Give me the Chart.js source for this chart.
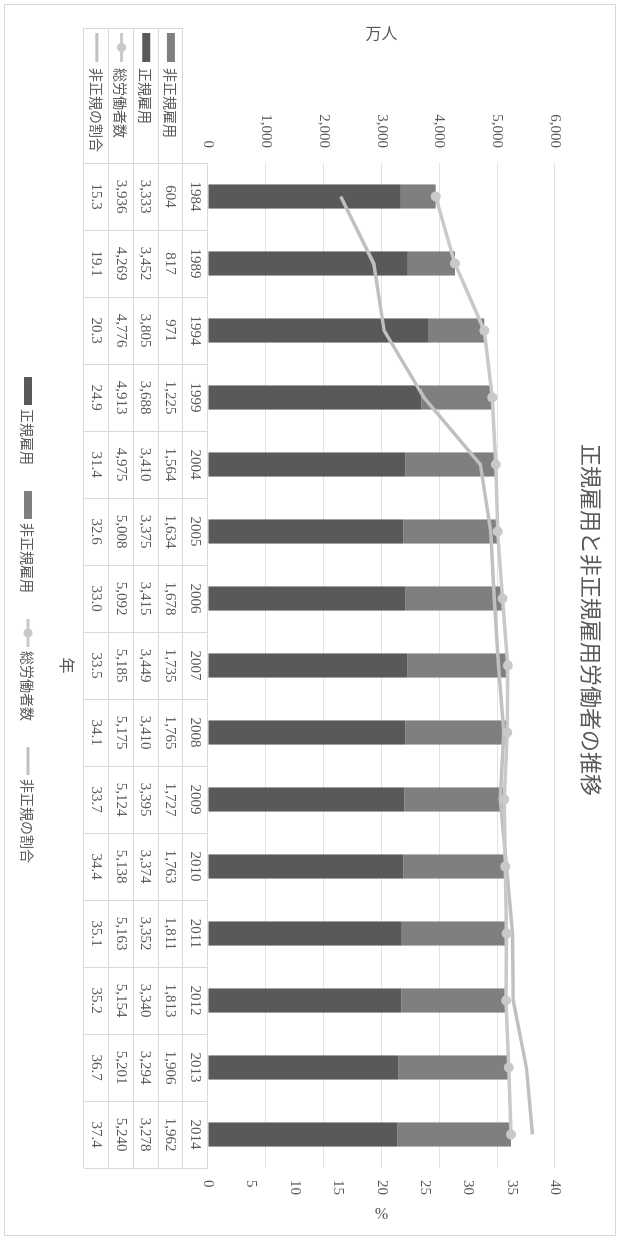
<!DOCTYPE html>
<html>
<head>
<meta charset="utf-8">
<script src="https://cdn.jsdelivr.net/npm/chart.js@4.4.1/dist/chart.umd.min.js"></script>
<style>
  html, body { margin: 0; padding: 0; background: #fff; overflow: hidden; width: 620px; height: 1240px; }
  /* chart is laid out landscape, then turned a quarter clockwise */
  #wrap { position: absolute; left: 0; top: 0; width: 1240px; height: 620px;
          transform-origin: 0 0; transform: translate(620px, 0) rotate(90deg); }
  #frame { position: absolute; left: 4px; top: 4px; width: 1230px; height: 610px; border: 1px solid #d9d9d9; }
  canvas { position: absolute; left: 0; top: 0; }
</style>
</head>
<body>
<div id="wrap">
  <div id="frame"></div>
  <canvas id="employment" width="1240" height="620"></canvas>
</div>
<script>
// @ts-check

const years = ['1984', '1989', '1994', '1999', '2004', '2005', '2006', '2007', '2008', '2009', '2010', '2011', '2012', '2013', '2014'];
const regular = [3333, 3452, 3805, 3688, 3410, 3375, 3415, 3449, 3410, 3395, 3374, 3352, 3340, 3294, 3278];
const nonRegular = [604, 817, 971, 1225, 1564, 1634, 1678, 1735, 1765, 1727, 1763, 1811, 1813, 1906, 1962];
const totalWorkers = [3936, 4269, 4776, 4913, 4975, 5008, 5092, 5185, 5175, 5124, 5138, 5163, 5154, 5201, 5240];
const nonRegularShare = [15.3, 19.1, 20.3, 24.9, 31.4, 32.6, 33.0, 33.5, 34.1, 33.7, 34.4, 35.1, 35.2, 36.7, 37.4];
const peopleTicks = [0, 1000, 2000, 3000, 4000, 5000, 6000];
const shareTicks = [0, 5, 10, 15, 20, 25, 30, 35, 40];

const FONT = "'Liberation Serif', 'Noto Sans CJK JP', serif";
const JP = "'Noto Sans CJK JP', 'Liberation Serif', sans-serif";
const TEXT = '#595959';
const GRID = '#e2e2e2';
const fmt = (v) => v.toLocaleString('en-US');

// @ts-ignore
Chart.defaults.font.family = FONT;
// @ts-ignore
Chart.defaults.color = TEXT;

// Data table under the plot plus the bottom legend
const tablePlugin = {
  id: 'dataTable',
  afterDraw(chart) {
    const { ctx, chartArea, scales: { x } } = chart;
    const ds = chart.data.datasets;
    const n = years.length;
    const cw = chartArea.width / n;
    const top = chartArea.bottom;
    const rowH = 24.7;
    const headLeft = 28;
    const rows = [
      { label: null, values: years },
      { label: ds[1].label, kind: 'bar', color: ds[1].backgroundColor, values: nonRegular.map(fmt) },
      { label: ds[0].label, kind: 'bar', color: ds[0].backgroundColor, values: regular.map(fmt) },
      { label: ds[2].label, kind: 'dot', color: ds[2].borderColor, values: totalWorkers.map(fmt) },
      { label: ds[3].label, kind: 'line', color: ds[3].borderColor, values: nonRegularShare.map(v => v.toFixed(1)) }
    ];
    const bottom = top + rowH * rows.length;

    ctx.save();
    ctx.strokeStyle = '#d9d9d9';
    ctx.lineWidth = 1;
    ctx.beginPath();
    for (let r = 0; r <= rows.length; r++) {
      const y = Math.round(top + r * rowH) + 0.5;
      ctx.moveTo(r === 0 ? chartArea.left : headLeft, y);
      ctx.lineTo(chartArea.right, y);
    }
    for (let k = 0; k <= n; k++) {
      const xx = Math.round(chartArea.left + k * cw) + 0.5;
      ctx.moveTo(xx, top);
      ctx.lineTo(xx, bottom);
    }
    ctx.moveTo(headLeft + 0.5, top + rowH);
    ctx.lineTo(headLeft + 0.5, bottom);
    ctx.stroke();

    const drawKey = (kind, color, x0, len, yc) => {
      if (kind === 'bar') {
        ctx.fillStyle = color;
        ctx.fillRect(x0, yc - 4, len, 8);
      } else {
        ctx.strokeStyle = color;
        ctx.lineWidth = 3;
        ctx.beginPath();
        ctx.moveTo(x0, yc);
        ctx.lineTo(x0 + len, yc);
        ctx.stroke();
        if (kind === 'dot') {
          ctx.fillStyle = color;
          ctx.beginPath();
          ctx.arc(x0 + len / 2, yc, 4.5, 0, Math.PI * 2);
          ctx.fill();
        }
      }
    };

    ctx.textBaseline = 'middle';
    rows.forEach((row, r) => {
      const yc = top + r * rowH + rowH / 2;
      if (row.label) {
        drawKey(row.kind, row.color, 33, 29, yc);
        ctx.fillStyle = TEXT;
        ctx.textAlign = 'left';
        ctx.font = '14px ' + JP;
        ctx.fillText(row.label, 68, yc + 1);
      }
      ctx.fillStyle = TEXT;
      ctx.textAlign = 'center';
      ctx.font = '15px ' + FONT;
      row.values.forEach((v, i) => {
        ctx.fillText(v, x.getPixelForValue(i), yc + 1);
      });
    });

    // bottom legend
    const items = ds.map((d) => ({
      label: d.label,
      kind: d.type === 'bar' ? 'bar' : (d.pointRadius > 0 ? 'dot' : 'line'),
      color: d.type === 'bar' ? d.backgroundColor : d.borderColor
    }));
    ctx.font = '14px ' + JP;
    const keyLen = 28, keyGap = 4, itemGap = 26;
    const widths = items.map(it => keyLen + keyGap + ctx.measureText(it.label).width);
    const total = widths.reduce((a, b) => a + b, 0) + itemGap * (items.length - 1);
    let lx = chart.width / 2 - total / 2;
    const ly = 592;
    items.forEach((it, i) => {
      drawKey(it.kind, it.color, lx, keyLen, ly);
      ctx.fillStyle = TEXT;
      ctx.textAlign = 'left';
      ctx.fillText(it.label, lx + keyLen + keyGap, ly + 1);
      lx += widths[i] + itemGap;
    });
    ctx.restore();
  }
};

const canvas = document.getElementById('employment');

// @ts-ignore
new Chart(canvas, {
  data: {
    labels: years,
    datasets: [
      {
        type: 'bar',
        label: '正規雇用',
        data: regular,
        backgroundColor: '#595959',
        yAxisID: 'y',
        order: 2
      },
      {
        type: 'bar',
        label: '非正規雇用',
        data: nonRegular,
        backgroundColor: '#7f7f7f',
        yAxisID: 'y',
        order: 2
      },
      {
        type: 'line',
        label: '総労働者数',
        data: totalWorkers,
        borderColor: '#c9c9c9',
        backgroundColor: '#c9c9c9',
        borderWidth: 3.5,
        pointRadius: 5,
        pointBorderWidth: 0,
        pointBackgroundColor: '#c9c9c9',
        yAxisID: 'y',
        order: 0
      },
      {
        type: 'line',
        label: '非正規の割合',
        data: nonRegularShare,
        borderColor: '#c0c0c0',
        borderWidth: 3.5,
        pointRadius: 0,
        yAxisID: 'y1',
        order: 1
      }
    ]
  },
  options: {
    responsive: false,
    animation: false,
    devicePixelRatio: 1,
    layout: { padding: 0 },
    datasets: {
      bar: { barPercentage: 0.36, categoryPercentage: 1 }
    },
    plugins: {
      legend: { display: false },
      tooltip: { enabled: false },
      title: {
        display: true,
        text: '正規雇用と非正規雇用労働者の推移',
        color: TEXT,
        font: { family: JP, size: 22, weight: 'normal' },
        padding: { top: 15, bottom: 23.6 }
      }
    },
    scales: {
      x: {
        stacked: true,
        grid: { display: false, drawTicks: false },
        border: { display: false },
        ticks: { display: false },
        title: {
          display: true,
          text: '年',
          color: TEXT,
          font: { family: JP, size: 16 },
          padding: { top: 0, bottom: 57 }
        },
        afterFit: (s) => { s.height = 208; }
      },
      y: {
        stacked: true,
        position: 'left',
        min: 0,
        max: 6000,
        afterBuildTicks: (s) => { s.ticks = peopleTicks.map(v => ({ value: v })); },
        grid: { color: GRID, drawTicks: false },
        border: { display: false },
        ticks: { padding: 15, font: { size: 15 }, callback: (v) => fmt(v) },
        title: {
          display: true,
          text: '万人',
          color: TEXT,
          font: { family: JP, size: 16 },
          padding: { top: 23, bottom: 0 }
        },
        afterFit: (s) => { s.width = 163; }
      },
      y1: {
        position: 'right',
        min: 0,
        max: 40,
        afterBuildTicks: (s) => { s.ticks = shareTicks.map(v => ({ value: v })); },
        grid: { display: false, drawTicks: false },
        border: { display: false },
        ticks: { padding: 12, font: { size: 15 } },
        title: {
          display: true,
          text: '%',
          color: TEXT,
          font: { size: 16 },
          padding: { top: 18.4, bottom: 0 }
        },
        afterFit: (s) => { s.width = 72; }
      }
    }
  },
  plugins: [tablePlugin]
});
</script>
</body>
</html>
